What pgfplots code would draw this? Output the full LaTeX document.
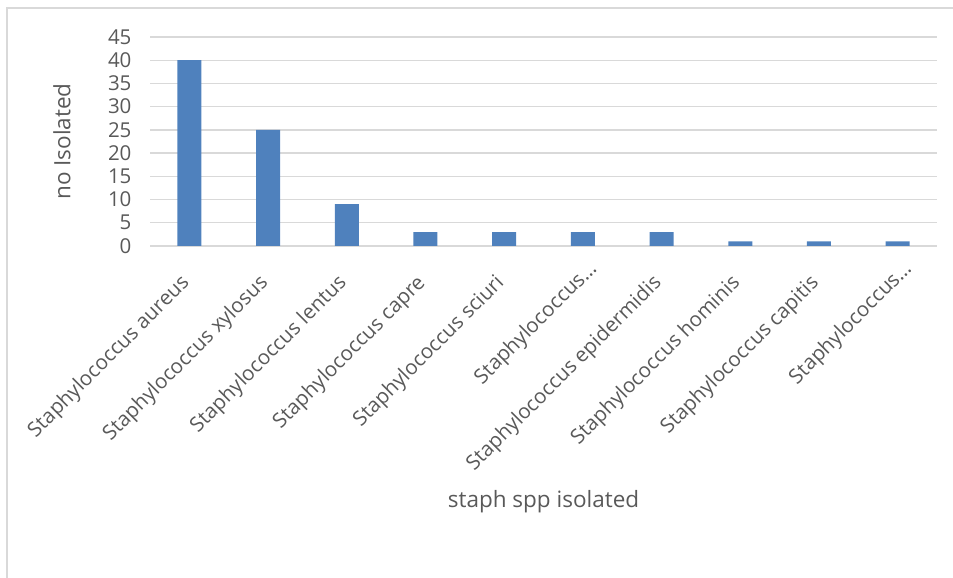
\documentclass[border=0pt]{standalone}
\usepackage{fontspec}
\setmainfont{Open Sans}
\usepackage{pgfplots}
\pgfplotsset{compat=1.18}
\definecolor{barblue}{HTML}{4F81BD}
\definecolor{gridgray}{HTML}{D9D9D9}
\definecolor{txtgray}{HTML}{595959}
\begin{document}
\begin{tikzpicture}[x=1pt,y=1pt]
\useasboundingbox (0,0) rectangle (953,578);
\draw[gridgray, line width=1.5pt] (7,0) -- (7,570) -- (953,570);
\begin{axis}[
  at={(150pt,332pt)}, anchor=south west,
  scale only axis, width=787pt, height=209pt,
  ymin=0, ymax=45, ytick={0,5,...,45},
  xmin=-0.5, xmax=9.5,
  xtick={0,...,9},
  xticklabels={Staphylococcus aureus, Staphylococcus xylosus, Staphylococcus lentus, Staphylococcus capre, Staphylococcus sciuri, Staphylococcus…\kern-20pt\null, Staphylococcus epidermidis, Staphylococcus hominis, Staphylococcus capitis, Staphylococcus…\kern-20pt\null},
  ybar, bar width=24pt,
  axis line style={draw=none},
  major tick length=0pt,
  ymajorgrids, grid style={gridgray, line width=1.3pt},
  /pgf/number format/assume math mode=true,
  tick label style={font=\fontsize{20.5}{24}\selectfont, text=txtgray},
  yticklabel style={xshift=-15pt},
  xticklabel style={xshift=-3pt, yshift=-34pt, rotate=45, anchor=east, inner sep=0pt},
  ylabel={no Isolated},
  ylabel style={at={(axis description cs:-0.112,0.5)}, anchor=center, font=\fontsize{22.5}{27}\selectfont, text=txtgray},
  xlabel={staph spp isolated},
  xlabel style={at={(axis description cs:0.5,-1.225)}, anchor=center, font=\fontsize{22.5}{27}\selectfont, text=txtgray},
]
\addplot[fill=barblue, draw=none] coordinates {(0,40) (1,25) (2,9) (3,3) (4,3) (5,3) (6,3) (7,1) (8,1) (9,1)};
\end{axis}
\end{tikzpicture}
\end{document}
